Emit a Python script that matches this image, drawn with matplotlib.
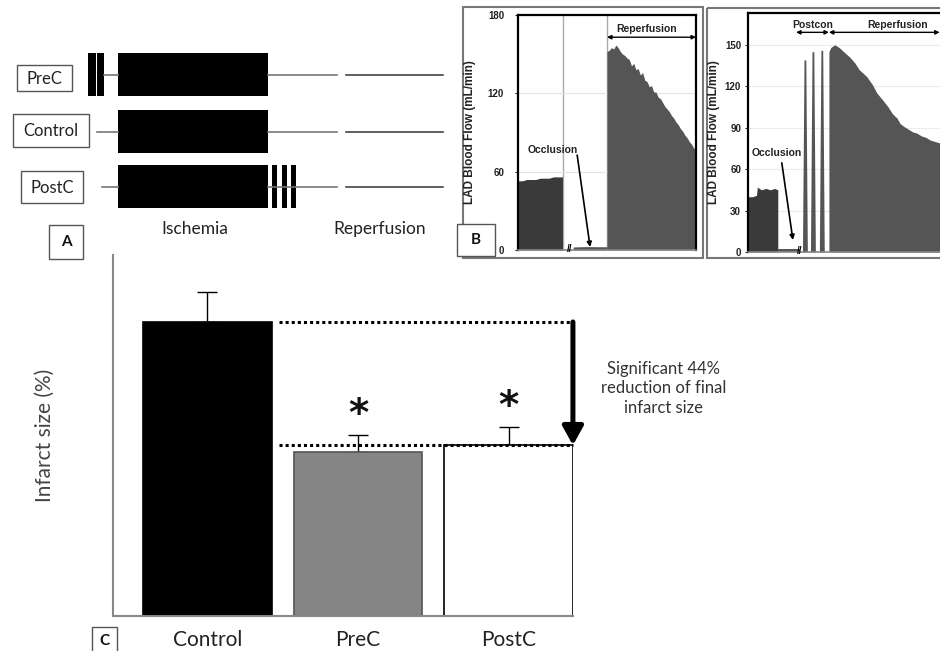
import numpy as np
import matplotlib.pyplot as plt
from matplotlib.patches import Rectangle

W, H = 940, 651

# --- Panel C: final infarct size -------------------------------------------
groups = ['Control', 'PreC', 'PostC']
infarct = [47.0, 26.2, 27.3]
infarct_err = [4.8, 2.7, 2.9]
reduction_note = 'Significant 44%\nreduction of final\ninfarct size'

# --- Panel A: protocol scheme ----------------------------------------------
protocol_rows = ['PreC', 'Control', 'PostC']
pre_cycles = [2, 0, 0]    # brief occlusions before index ischemia
post_cycles = [0, 0, 3]   # brief occlusions at reperfusion onset

# --- Panel B (left): LAD flow, control ------------------------------------
b1_base_t = [0, 1, 2, 3, 4, 5, 6, 7, 8, 9, 10]
b1_base_v = [53, 53, 54, 54, 54, 55, 55, 55, 56, 56, 56]
b1_occl_t = [12.4, 14, 16, 18, 20]
b1_occl_v = [2.3, 2.5, 2.6, 2.5, 2.5]
b1_rep_t = [20, 20.5, 21, 21.5, 22, 22.5, 23, 23.5, 24, 24.5, 25, 25.5, 26,
            26.5, 27, 27.5, 28, 28.5, 29, 29.5, 30, 30.5, 31, 31.5, 32, 32.5,
            33, 33.5, 34, 34.5, 35, 35.5, 36, 36.5, 37, 37.5, 38, 38.5, 39,
            39.5, 40]
b1_rep_v = [152, 153, 155, 154, 157, 155, 152, 150, 149, 147, 146, 141, 143,
            138, 139, 134, 136, 130, 129, 125, 126, 121, 121, 117, 116, 113,
            110, 108, 106, 103, 101, 98, 96, 93, 91, 88, 86, 83, 81, 78, 77]

# --- Panel B (right): LAD flow, postconditioning ---------------------------
b2_base_t = [0, 1, 1.9, 2.1, 3, 4, 5, 6, 6.7]
b2_base_v = [40, 40, 41, 47, 45, 46, 45, 46, 45]
b2_occl_t = [6.8, 8, 10, 11.7]
b2_occl_v = [2.5, 2.5, 2.5, 2.5]
b2_spike_t = [12.8, 14.6, 16.6]
b2_spike_v = [139, 145, 146]
b2_rep_t = [18.2, 18.6, 19.5, 20.5, 21.5, 22.9, 24, 25, 26.7, 28, 29, 30.3,
            31.5, 32.5, 33.5, 34.2, 35, 36, 37, 38, 39, 40, 41, 42, 43.1, 44,
            46, 48, 50]
b2_rep_v = [145, 148, 150, 148, 145, 141, 137, 132, 127, 121, 115, 110,
            105, 100, 97, 93, 91, 89, 87, 86, 84, 83, 81, 80, 79, 78,
            77, 76, 75]

FONT = 'Lato'
BOLD = 'Liberation Sans'


def px_axes(fig, left, top, right, bottom):
    return fig.add_axes([left / W, 1 - bottom / H, (right - left) / W, (bottom - top) / H])


fig = plt.figure(figsize=(W / 100, H / 100), dpi=100)

# overlay in pixel coordinates for the scheme and the boxes
ov = fig.add_axes([0, 0, 1, 1])
ov.set_xlim(0, W)
ov.set_ylim(H, 0)
ov.axis('off')

# ---------- Panel A ----------
row_y = [75, 132, 187]
box_xy = [(17, 65, 55, 26), (13, 114, 76, 33), (21, 171, 62, 32)]
line_start = [104, 97, 102]
for i, name in enumerate(protocol_rows):
    y = row_y[i]
    bx, by, bw, bh = box_xy[i]
    ov.add_patch(Rectangle((bx, by), bw, bh, fill=False, ec='#555555', lw=1))
    ov.text(bx + bw / 2, by + bh / 2 + 1, name, ha='center', va='center',
            fontsize=12, family=FONT, color='#222222')
    ov.plot([line_start[i], 118], [y, y], color='#777777', lw=1.2)
    ov.add_patch(Rectangle((118, y - 22), 150, 43, color='black', lw=0))
    for k in range(pre_cycles[i]):
        ov.add_patch(Rectangle((88 + k * 8.5, y - 22), 7.5, 43, color='black', lw=0))
    for k in range(post_cycles[i]):
        ov.add_patch(Rectangle((272 + k * 9.5, y - 22), 5, 43, color='black', lw=0))
    ov.plot([268, 337], [y, y], color='#777777', lw=1.2)
    ov.plot([346, 443], [y, y], color='#333333', lw=1.1)

ov.text(195, 229, 'Ischemia', ha='center', va='center', fontsize=12.5,
        family=FONT, color='#222222')
ov.text(380, 229, 'Reperfusion', ha='center', va='center', fontsize=12.5,
        family=FONT, color='#222222')

# panel letters
for (x0, y0, w0, h0, lab) in [(49, 225, 34, 34, 'A'), (457, 224, 38, 32, 'B'),
                              (92, 627, 25, 30, 'C')]:
    ov.add_patch(Rectangle((x0, y0), w0, h0, fc='white', ec='#555555', lw=1, zorder=5))
    ov.text(x0 + w0 / 2, min(y0 + h0 / 2, 641), lab, ha='center', va='center',
            fontsize=11, family=FONT, weight='bold', color='#111111', zorder=6)

# outer frames of the flow recordings
ov.add_patch(Rectangle((463, 7), 240, 251, fill=False, ec='#777777', lw=1.5))
ov.add_patch(Rectangle((707, 8), 260, 250, fill=False, ec='#777777', lw=1.5))

# ---------- Panel B left ----------
axb1 = px_axes(fig, 518, 15, 696, 250)
axb1.fill_between(b1_base_t, b1_base_v, color='#3a3a3a', lw=0)
axb1.fill_between(b1_occl_t, b1_occl_v, color='#555555', lw=0)
axb1.fill_between(b1_rep_t, b1_rep_v, color='#555555', lw=0)
axb1.axvline(10, color='#aaaaaa', lw=1, zorder=0)
axb1.axvline(20, color='#aaaaaa', lw=1, zorder=0)
axb1.set_xlim(0, 40)
axb1.set_ylim(0, 180)
axb1.set_yticks([0, 60, 120, 180])
axb1.grid(axis='y', color='#e4e4e4', lw=0.8)
axb1.set_axisbelow(True)
axb1.set_xticks([])
axb1.text(11.7, 1, '//', ha='center', va='center', fontsize=7, weight='bold',
          family=BOLD, clip_on=False)
axb1.annotate('', xy=(16.2, 2.3), xytext=(13.3, 72.7),
              arrowprops=dict(arrowstyle='-|>', color='black', lw=1.2,
                              mutation_scale=7, shrinkA=0, shrinkB=0))
axb1.text(7.9, 76.6, 'Occlusion', ha='center', va='center', fontsize=7.5,
          weight='bold', family=BOLD, color='#222222')
axb1.annotate('', xy=(40, 163), xytext=(20, 163),
              arrowprops=dict(arrowstyle='<|-|>', color='black', lw=1,
                              mutation_scale=6, shrinkA=0, shrinkB=0))
axb1.text(29, 169.5, 'Reperfusion', ha='center', va='center', fontsize=7.5,
          weight='bold', family=BOLD, color='#222222')

# ---------- Panel B right ----------
axb2 = px_axes(fig, 748, 13, 985, 252)
axb2.fill_between(b2_base_t, b2_base_v, color='#3a3a3a', lw=0)
axb2.fill_between(b2_occl_t, b2_occl_v, color='#555555', lw=0)
for t, v in zip(b2_spike_t, b2_spike_v):
    axb2.fill_between([t - 0.55, t - 0.2, t + 0.2, t + 0.55], [0, v, v, 0],
                      color='#555555', lw=0)
axb2.fill_between(b2_rep_t, b2_rep_v, color='#555555', lw=0)
axb2.set_xlim(0, 53.3)
axb2.set_ylim(0, 173)
axb2.set_yticks([0, 30, 60, 90, 120, 150])
axb2.grid(axis='y', color='#ececec', lw=0.8)
axb2.set_axisbelow(True)
axb2.set_xticks([])
axb2.text(11.7, 1, '//', ha='center', va='center', fontsize=7, weight='bold',
          family=BOLD, clip_on=False)
axb2.annotate('', xy=(10.1, 8.7), xytext=(7.6, 64.5),
              arrowprops=dict(arrowstyle='-|>', color='black', lw=1.2,
                              mutation_scale=7, shrinkA=0, shrinkB=0))
axb2.text(6.5, 71.7, 'Occlusion', ha='center', va='center', fontsize=7.5,
          weight='bold', family=BOLD, color='#222222')
axb2.annotate('', xy=(18.2, 159), xytext=(10.8, 159),
              arrowprops=dict(arrowstyle='<|-|>', color='black', lw=1,
                              mutation_scale=6, shrinkA=0, shrinkB=0))
axb2.annotate('', xy=(43.1, 159), xytext=(18.2, 159),
              arrowprops=dict(arrowstyle='<|-|>', color='black', lw=1,
                              mutation_scale=6, shrinkA=0, shrinkB=0))
axb2.text(14.5, 164.5, 'Postcon', ha='center', va='center', fontsize=7.5,
          weight='bold', family=BOLD, color='#222222')
axb2.text(33.7, 164.5, 'Reperfusion', ha='center', va='center', fontsize=7.5,
          weight='bold', family=BOLD, color='#222222')

for ax, pad, lx in ((axb1, 8, -0.236), (axb2, 3, -0.118)):
    for side in ('top', 'left', 'right'):
        ax.spines[side].set_color('black')
        ax.spines[side].set_linewidth(1.6)
    ax.spines['bottom'].set_color('#888888')
    ax.spines['bottom'].set_linewidth(1.2)
    ax.tick_params(axis='y', length=2, pad=pad, labelsize=7, colors='#222222')
    for lab in ax.get_yticklabels():
        lab.set_fontweight('bold')
        lab.set_family(BOLD)
    ax.set_ylabel('LAD Blood Flow (mL/min)', fontsize=8.5, weight='bold',
                  family=BOLD, color='#222222')
    ax.yaxis.set_label_coords(lx, 0.5)

# ---------- Panel C ----------
axc = px_axes(fig, 113, 255, 573, 616)
axc.set_facecolor('none')
xpos = np.arange(len(groups))
bw = 0.853
axc.bar(xpos, infarct, width=bw, color=['black', '#858585', 'white'],
        edgecolor=['black', '#555555', 'black'], linewidth=1.2, zorder=2)
axc.errorbar(xpos, infarct, yerr=[[0, 0, 0], infarct_err], fmt='none',
             ecolor='black', elinewidth=1, capsize=7, capthick=1, zorder=1)
axc.set_xlim(-0.627, 2.427)
axc.set_ylim(0, 57.7)
axc.set_yticks([])
axc.set_xticks(xpos)
axc.set_xticklabels(groups, fontsize=15, family=FONT, color='#222222')
axc.tick_params(axis='x', length=0, pad=10)
for side in ('top', 'right'):
    axc.spines[side].set_visible(False)
for side in ('left', 'bottom'):
    axc.spines[side].set_color('#888888')
    axc.spines[side].set_linewidth(1.5)
axc.set_ylabel('Infarct size (%)', fontsize=15, family=FONT, color='#444444',
               labelpad=42)

x_end = xpos[-1] + bw / 2
axc.hlines([infarct[0], infarct[2]], 0.473, x_end, colors='black', lw=2.2,
           linestyles=(0, (1, 1)), zorder=3, clip_on=False)
axc.annotate('', xy=(x_end, infarct[2]), xytext=(x_end, infarct[0]),
             arrowprops=dict(arrowstyle='-|>,head_length=0.45,head_width=0.25',
                             color='black', lw=3.6, mutation_scale=25,
                             shrinkA=0, shrinkB=0), annotation_clip=False)
for i in (1, 2):
    axc.text(xpos[i], infarct[i] + infarct_err[i] + 3.2, '*', ha='center',
             va='center', fontsize=28, weight='bold', color='#111111')
axc.text(3.03, 36.4, reduction_note, ha='center', va='center', fontsize=12,
         family=FONT, color='#333333', linespacing=1.25, clip_on=False)

fig.savefig('out.png', dpi=100)
